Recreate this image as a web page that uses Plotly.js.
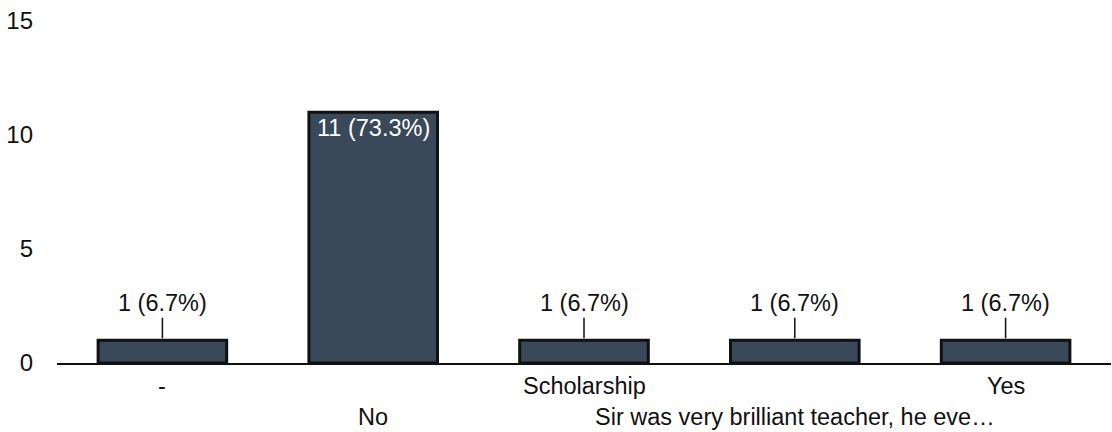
<!DOCTYPE html>
<html>
<head>
<meta charset="utf-8">
<script src="https://cdn.plot.ly/plotly-3.0.1.min.js"></script>
<style>
html,body{margin:0;padding:0;background:#fff;}
#chart{width:1112px;height:432px;}
</style>
</head>
<body>
<div id="chart"></div>
<script>
var categories = ['-', 'No', 'Scholarship', 'Sir was very brilliant teacher, he eve\u2026', 'Yes'];
var counts = [1, 11, 1, 1, 1];
var percents = ['6.7%', '73.3%', '6.7%', '6.7%', '6.7%'];
var yTicks = [0, 5, 10, 15];

var FONT = 'Liberation Sans, Arial, sans-serif';
var FS = 23.5;

var trace = {
  type: 'bar',
  x: categories,
  y: counts,
  marker: {color: '#39495a', line: {color: '#111111', width: 3}},
  hoverinfo: 'none'
};

var annotations = [];
categories.forEach(function (c, i) {
  var label = counts[i] + ' (' + percents[i] + ')';
  if (counts[i] >= 5) {
    annotations.push({
      x: c, y: counts[i], xref: 'x', yref: 'y',
      text: label, showarrow: false, yanchor: 'top', yshift: -1,
      font: {family: FONT, size: FS, color: '#ffffff'}
    });
  } else {
    annotations.push({
      x: c, y: counts[i], xref: 'x', yref: 'y',
      text: label, showarrow: true, arrowhead: 0, arrowwidth: 1.5,
      arrowcolor: '#111111', ax: 0, ay: -37, standoff: 2,
      font: {family: FONT, size: FS, color: '#111111'}
    });
  }
  annotations.push({
    x: c, y: 0, xref: 'x', yref: 'paper',
    text: c, showarrow: false, yanchor: 'middle',
    yshift: (i % 2 === 0) ? -23 : -54,
    font: {family: FONT, size: FS, color: '#111111'}
  });
});

var layout = {
  width: 1112, height: 432,
  margin: {l: 57, r: 1, t: 21, b: 69},
  paper_bgcolor: '#ffffff', plot_bgcolor: '#ffffff',
  bargap: 0.39,
  showlegend: false,
  font: {family: FONT, size: FS, color: '#111111'},
  xaxis: {
    type: 'category', range: [-0.5, 4.5],
    showticklabels: false, showgrid: false, zeroline: false,
    showline: true, linecolor: '#111111', linewidth: 2, ticks: ''
  },
  yaxis: {
    range: [0, 15], tickvals: yTicks, ticktext: yTicks.map(String),
    showgrid: false, zeroline: false, showline: false, ticks: '',
    ticklabelstandoff: 23,
    tickfont: {family: FONT, size: 24, color: '#111111'}
  },
  annotations: annotations
};

Plotly.newPlot('chart', [trace], layout, {staticPlot: true, displayModeBar: false});
</script>
</body>
</html>
